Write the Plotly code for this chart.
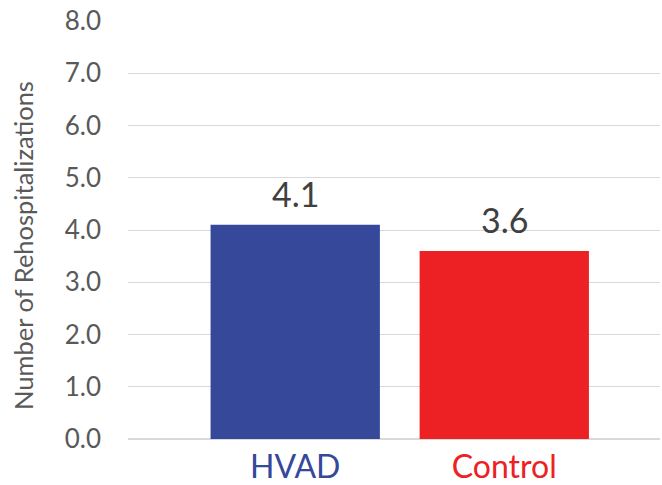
import plotly.graph_objects as go

groups = ["HVAD", "Control"]
rehosp = [4.1, 3.6]
bar_colors = ["#35489A", "#ED2024"]
y_ticks = [0, 1, 2, 3, 4, 5, 6, 7, 8]

fig = go.Figure(
    go.Bar(
        x=[0, 1],
        y=rehosp,
        width=0.81,
        marker=dict(color=bar_colors, line=dict(width=0)),
        hoverinfo="x+y",
    )
)

# value labels sit a bit higher above the bars than plotly's "outside" text
for i, v in enumerate(rehosp):
    fig.add_annotation(
        x=i, y=v, text=f"{v:.1f}", showarrow=False,
        yanchor="bottom", yshift=9,
        font=dict(size=34, color="#404040", family="Lato"),
    )

# y title as annotation so it can sit slightly below the plot centre like the original
fig.add_annotation(
    text="Number of Rehospitalizations",
    xref="paper", yref="paper", x=0, y=0.462,
    xanchor="center", yanchor="middle", xshift=-105,
    textangle=-90, showarrow=False,
    font=dict(size=25.5, color="#595959", family="Lato"),
)

fig.update_layout(
    width=662,
    height=485,
    margin=dict(l=128, r=2, t=21, b=46),
    plot_bgcolor="white",
    paper_bgcolor="white",
    showlegend=False,
    font=dict(family="Lato", color="#595959"),
)

fig.update_xaxes(
    range=[-0.80, 1.745],
    tickvals=[0, 1],
    ticktext=[f"<span style='color:{c}'>{g}</span>" for g, c in zip(groups, bar_colors)],
    tickfont=dict(size=32),
    ticklabelstandoff=6,
    automargin=False,
    showgrid=False,
    showline=False,
    zeroline=False,
    ticks="",
)

fig.update_yaxes(
    range=[0, 8],
    tickvals=y_ticks,
    tickformat=".1f",
    tickfont=dict(size=26, color="#595959"),
    gridcolor="#D9D9D9",
    zeroline=True,
    zerolinecolor="#D9D9D9",
    ticklabelstandoff=26,
    automargin=False,
)

fig.write_html(
    "out.html",
    config={"displayModeBar": False},
    post_script="document.body.style.margin='0';",
)
